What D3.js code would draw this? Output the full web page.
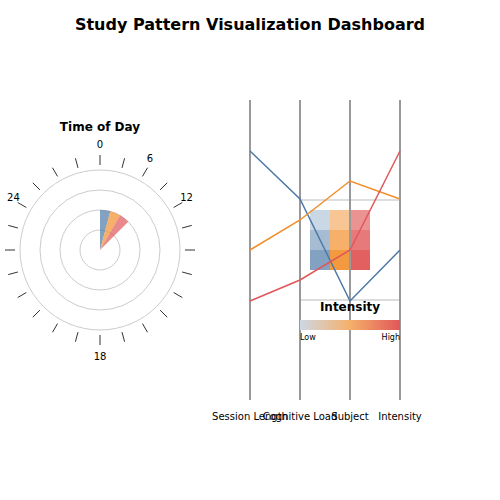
<!DOCTYPE html>
<html><head><meta charset="utf-8">
<script src="https://cdn.jsdelivr.net/npm/d3@7"></script>
<style>body{margin:0;background:#fff;font-family:"DejaVu Sans",sans-serif}</style>
</head><body><div id="wrap"></div>
<script>
// Study pattern dashboard: polar time-of-day + parallel coordinates
var WIDTH = 500, HEIGHT = 500;
var COLORS = ["#4e79a7", "#f28e2b", "#e15759"];

var hourLabels = ["0", "6", "12", "24", "18"];
var hourLabelAngles = [0, 30, 60, 300, 180];
var wedgeStart = [0, 15, 30];
var wedgeEnd = [15, 30, 45];
var wedgeValue = [2, 2, 2];

var dims = ["Session Length", "Cognitive Load", "Subject", "Intensity"];
var seriesBlue = [0.83, 0.67, 0.33, 0.5];
var seriesOrange = [0.5, 0.6, 0.73, 0.67];
var seriesRed = [0.33, 0.4, 0.5, 0.83];
var heatOpacity = [[0.3, 0.5, 0.65], [0.5, 0.7, 0.8], [0.7, 0.9, 0.95]];

var svg = d3.select("#wrap").append("svg").attr("width", WIDTH).attr("height", HEIGHT);

svg.append("text").attr("x", 250).attr("y", 30).attr("text-anchor", "middle")
  .attr("font-size", 16).attr("font-weight", "bold").text("Study Pattern Visualization Dashboard");

/* Polar chart */
var polar = svg.append("g").attr("transform", "translate(100,250)");
var r = d3.scaleLinear().domain([0, 4]).range([0, 80]);
polar.selectAll(".ring").data([1, 2, 3, 4]).enter().append("circle")
  .attr("r", r).attr("fill", "none").attr("stroke", "#ccc");
var arc = d3.arc().innerRadius(0);
polar.selectAll(".wedge").data(wedgeValue).enter().append("path")
  .attr("d", function(v, i) {
    return arc({outerRadius: r(v), startAngle: wedgeStart[i] * Math.PI / 180, endAngle: wedgeEnd[i] * Math.PI / 180});
  })
  .attr("fill", function(v, i) { return COLORS[i]; }).attr("opacity", 0.7);
polar.selectAll(".tick").data(d3.range(24)).enter().append("line")
  .each(function(h) {
    var a = h * 15 * Math.PI / 180, major = h % 6 === 0;
    d3.select(this).attr("x1", 85 * Math.sin(a)).attr("y1", -85 * Math.cos(a))
      .attr("x2", 95 * Math.sin(a)).attr("y2", -95 * Math.cos(a))
      .attr("stroke", major ? "#999" : "#333").attr("stroke-width", major ? 2 : 1);
  });
polar.selectAll(".hl").data(hourLabels).enter().append("text")
  .attr("x", function(d, i) { return 100 * Math.sin(hourLabelAngles[i] * Math.PI / 180); })
  .attr("y", function(d, i) { return -106 * Math.cos(hourLabelAngles[i] * Math.PI / 180) + 4; })
  .attr("text-anchor", "middle").attr("font-size", 10).text(function(d) { return d; });
svg.append("text").attr("x", 100).attr("y", 131).attr("text-anchor", "middle")
  .attr("font-size", 12).attr("font-weight", "bold").text("Time of Day");

/* Parallel coordinates */
var x = d3.scalePoint().domain(dims).range([250, 400]);
var y = d3.scaleLinear().domain([0, 1]).range([400, 100]);

/* Legend box (under the lines) */
var lg = svg.append("g");
lg.append("rect").attr("x", 300).attr("y", 200).attr("width", 100).attr("height", 100)
  .attr("fill", "#fff").attr("fill-opacity", 0.3).attr("stroke", "#ddd").attr("stroke-width", 2);

svg.selectAll(".axis").data(dims).enter().append("line")
  .attr("x1", x).attr("x2", x).attr("y1", 100).attr("y2", 400)
  .attr("stroke", "#999").attr("stroke-width", 2);
svg.selectAll(".axlab").data(dims).enter().append("text")
  .attr("x", x).attr("y", 420).attr("text-anchor", "middle").attr("font-size", 10)
  .text(function(d) { return d; });

heatOpacity.forEach(function(row, ri) {
  lg.selectAll(".c" + ri).data(row).enter().append("rect")
    .attr("x", function(d, ci) { return 310 + ci * 20; }).attr("y", 210 + ri * 20)
    .attr("width", 20).attr("height", 20)
    .attr("fill", function(d, ci) { return COLORS[ci]; }).attr("opacity", function(d) { return d; });
});

var line = d3.line().x(function(d, i) { return x(dims[i]); }).y(function(d) { return y(d); });
svg.selectAll(".series").data([seriesBlue, seriesOrange, seriesRed]).enter().append("path")
  .attr("d", line).attr("fill", "none").attr("stroke-width", 1.5)
  .attr("stroke", function(d, i) { return COLORS[i]; });

svg.append("text").attr("x", 350).attr("y", 311).attr("text-anchor", "middle")
  .attr("font-size", 12).attr("font-weight", "bold").text("Intensity");
var grad = svg.append("defs").append("linearGradient").attr("id", "g");
grad.append("stop").attr("offset", "0%").attr("stop-color", "#cdd8e4");
grad.append("stop").attr("offset", "50%").attr("stop-color", "#f5b06a");
grad.append("stop").attr("offset", "100%").attr("stop-color", "#e15759");
svg.append("rect").attr("x", 300).attr("y", 320).attr("width", 100).attr("height", 10).attr("fill", "url(#g)");
svg.append("text").attr("x", 300).attr("y", 340).attr("font-size", 8).text("Low");
svg.append("text").attr("x", 400).attr("y", 340).attr("text-anchor", "end").attr("font-size", 8).text("High");
</script></body></html>
